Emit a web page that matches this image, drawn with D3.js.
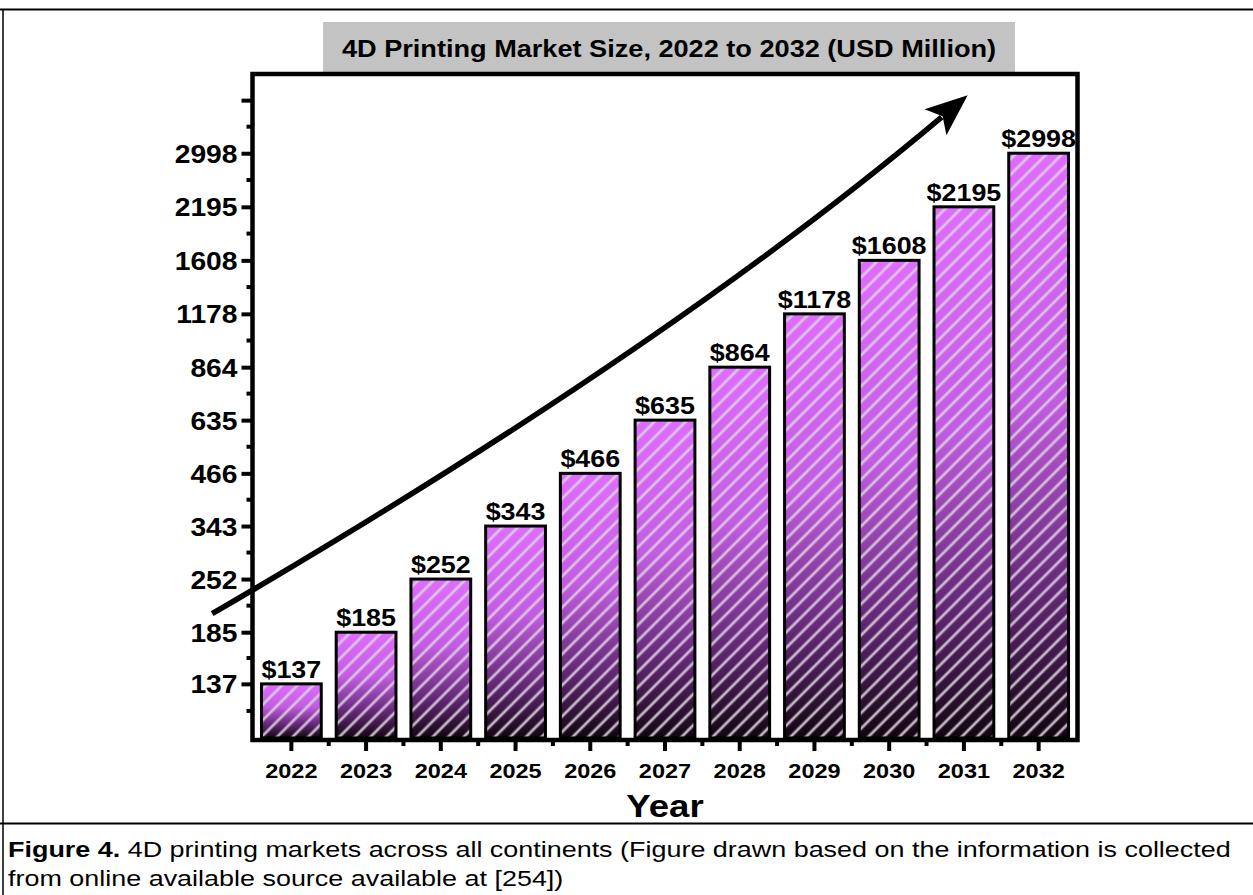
<!DOCTYPE html>
<html><head><meta charset="utf-8">
<script src="https://cdn.jsdelivr.net/npm/d3@7"></script>
<style>
html,body{margin:0;padding:0;background:#fff;}
svg{display:block;font-family:Arial,"Liberation Sans",sans-serif;}
</style></head>
<body>
<svg id="chart" width="1253" height="895"></svg>
<script>
// ---- data ----
const years = ["2022","2023","2024","2025","2026","2027","2028","2029","2030","2031","2032"];
const values = [137,185,252,343,466,635,864,1178,1608,2195,2998];
const valueLabels = ["$137","$185","$252","$343","$466","$635","$864","$1178","$1608","$2195","$2998"];
const yTickValues = [137,185,252,343,466,635,864,1178,1608,2195,2998,4082];
const yTickLabels = ["137","185","252","343","466","635","864","1178","1608","2195","2998",""];
const titleText = "4D Printing Market Size, 2022 to 2032 (USD Million)";
const xTitle = "Year";
const captionBold = "Figure 4.";
const captionRest1 = " 4D printing markets across all continents (Figure drawn based on the information is collected";
const captionLine2 = "from online available source available at [254])";
// trend arrow in data space: [year index, value]
const arrowStart = [-1.06, 206];
const arrowCtrl = [5.0, 954];
const arrowEnd = [9.05, 4200];

const svg = d3.select("#chart");
const L = 252.5, R = 1077.5, T = 74, B = 740;

const x = d3.scaleBand().domain(years).range([L+1.5, R-1.5]).paddingInner(0.2).paddingOuter(0.1);
const y = d3.scaleLog().domain([100, 4780]).range([738, 73]);
const xi = i => x(years[0]) + x.bandwidth()/2 + i * x.step();

function stretchedText(g, tx, ty, s) {
  return g.append("text").attr("transform", `translate(${tx},${ty}) scale(${s},1)`);
}

// document frame lines
svg.append("line").attr("x1",0).attr("x2",1253).attr("y1",9.5).attr("y2",9.5).attr("stroke","#000").attr("stroke-width",2);
svg.append("line").attr("x1",3).attr("x2",3).attr("y1",9).attr("y2",895).attr("stroke","#000").attr("stroke-width",1.5);
svg.append("line").attr("x1",0).attr("x2",1253).attr("y1",823.5).attr("y2",823.5).attr("stroke","#000").attr("stroke-width",2);

// defs
const defs = svg.append("defs");
const grad = defs.append("linearGradient").attr("id","barGrad").attr("x1",0).attr("y1",0).attr("x2",0).attr("y2",1);
[[0,"#e06cff"],[0.42,"#c35ce2"],[0.74,"#66297a"],[1,"#12060f"]].forEach(s=>grad.append("stop").attr("offset",s[0]).attr("stop-color",s[1]));
const pat = defs.append("pattern").attr("id","hatch").attr("patternUnits","userSpaceOnUse")
  .attr("width",11).attr("height",11).attr("patternTransform","rotate(45)");
pat.append("line").attr("x1",2).attr("x2",2).attr("y1",0).attr("y2",11).attr("stroke","#ddd2e0").attr("stroke-opacity",0.85).attr("stroke-width",2.8);

// title
svg.append("rect").attr("x",323).attr("y",22).attr("width",692).attr("height",51).attr("fill","#c3c3c3");
stretchedText(svg, 669, 57, 1.18).attr("text-anchor","middle").attr("font-size",23).attr("font-weight","bold").text(titleText);

// bars
const bars = svg.append("g");
values.forEach((v,i)=>{
  const bx = x(years[i]), bw = x.bandwidth(), by = y(v), bh = y.range()[0] - y(v);
  bars.append("rect").attr("x",bx).attr("y",by).attr("width",bw).attr("height",bh).attr("fill","url(#barGrad)");
  bars.append("rect").attr("x",bx).attr("y",by).attr("width",bw).attr("height",bh).attr("fill","url(#hatch)");
  bars.append("rect").attr("x",bx).attr("y",by).attr("width",bw).attr("height",bh).attr("fill","none").attr("stroke","#000").attr("stroke-width",3);
  stretchedText(bars, bx+bw/2, by-6, 1.12).attr("text-anchor","middle").attr("font-size",24).attr("font-weight","bold").text(valueLabels[i]);
});

// arrow
const p0=[xi(arrowStart[0]),y(arrowStart[1])], pc=[xi(arrowCtrl[0]),y(arrowCtrl[1])], p2=[xi(arrowEnd[0]),y(arrowEnd[1])];
const ang = Math.atan2(p2[1]-pc[1], p2[0]-pc[0]);
const headLen = 42, headW = 17;
const base = [p2[0]-headLen*Math.cos(ang), p2[1]-headLen*Math.sin(ang)];
const lineEnd = [p2[0]-(headLen-8)*Math.cos(ang), p2[1]-(headLen-8)*Math.sin(ang)];
const path = d3.path(); path.moveTo(p0[0],p0[1]); path.quadraticCurveTo(pc[0],pc[1],lineEnd[0],lineEnd[1]);
svg.append("path").attr("d",path.toString()).attr("fill","none").attr("stroke","#000").attr("stroke-width",5.5);
const nx=-Math.sin(ang), ny=Math.cos(ang);
svg.append("path").attr("d",`M${p2[0]},${p2[1]}L${base[0]+nx*headW},${base[1]+ny*headW}L${base[0]+(headLen*0.22)*Math.cos(ang)},${base[1]+(headLen*0.22)*Math.sin(ang)}L${base[0]-nx*headW},${base[1]-ny*headW}Z`).attr("fill","#000");

// frame
svg.append("rect").attr("x",L).attr("y",T).attr("width",R-L).attr("height",B-T).attr("fill","none").attr("stroke","#000").attr("stroke-width",4.5);

// y axis
const yAxis = d3.axisLeft(y).tickValues(yTickValues).tickFormat((d,i)=>yTickLabels[i]).tickSize(11).tickPadding(3);
const gy = svg.append("g").attr("transform",`translate(${L},0)`).call(yAxis);
gy.select(".domain").remove();
gy.selectAll(".tick line").attr("stroke-width",4);
gy.selectAll(".tick text").attr("x",null).attr("transform","translate(-15,0) scale(1.13,1)")
  .attr("font-size",25).attr("font-weight","bold").attr("font-family","Arial,'Liberation Sans',sans-serif").attr("dy","0.36em");
const minorY = [Math.sqrt(100*137)].concat(yTickValues.slice(1).map((v,i)=>Math.sqrt(v*yTickValues[i])));
svg.append("g").selectAll("line").data(minorY).join("line")
  .attr("x1",L-6).attr("x2",L).attr("y1",d=>y(d)).attr("y2",d=>y(d)).attr("stroke","#000").attr("stroke-width",4);

// x axis
const xAxis = d3.axisBottom(x).tickSize(11).tickPadding(12);
const gx = svg.append("g").attr("transform",`translate(0,${B})`).call(xAxis);
gx.select(".domain").remove();
gx.selectAll(".tick line").attr("stroke-width",4);
gx.selectAll(".tick text").attr("y",null).attr("transform","translate(0,23) scale(1.12,1)").attr("dy","0.71em")
  .attr("font-size",21).attr("font-weight","bold").attr("font-family","Arial,'Liberation Sans',sans-serif");
svg.append("g").selectAll("line").data(years.slice(1)).join("line")
  .attr("x1",d=>x(d)-x.step()*x.paddingInner()/2).attr("x2",d=>x(d)-x.step()*x.paddingInner()/2)
  .attr("y1",B).attr("y2",B+6).attr("stroke","#000").attr("stroke-width",4);

// x title
stretchedText(svg, 665, 817, 1.18).attr("text-anchor","middle").attr("font-size",31).attr("font-weight","bold").text(xTitle);

// caption
const cap = stretchedText(svg, 8, 857, 1.225).attr("font-size",22);
cap.append("tspan").attr("font-weight","bold").text(captionBold);
cap.append("tspan").text(captionRest1);
stretchedText(svg, 8, 886, 1.225).attr("font-size",22).text(captionLine2);
</script>
</body></html>
